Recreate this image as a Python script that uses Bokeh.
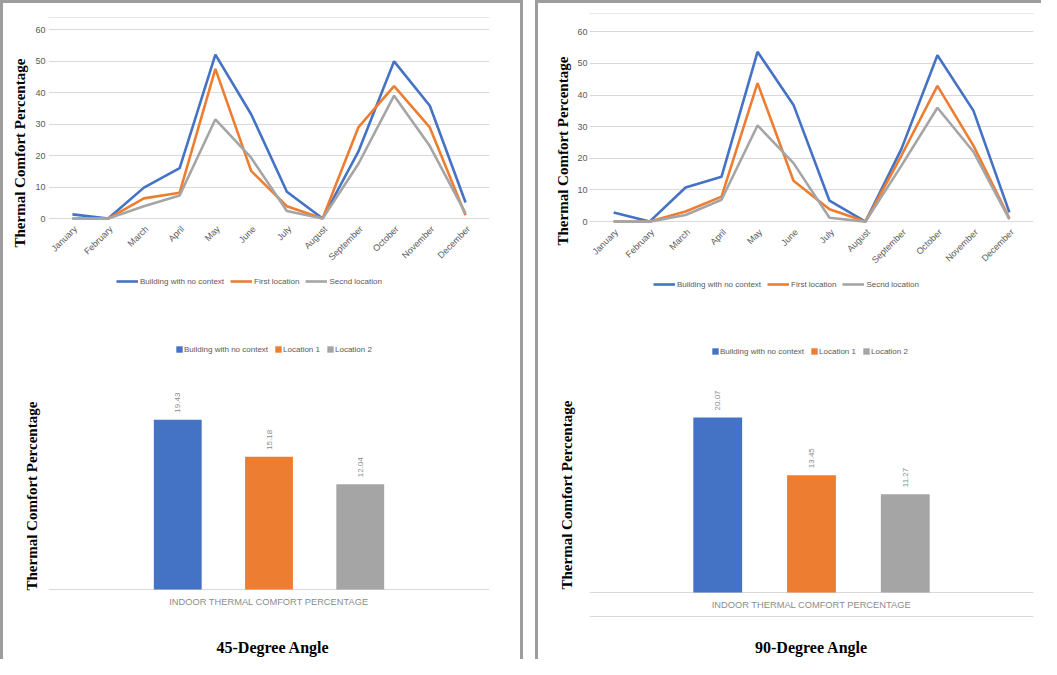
import math
from bokeh.plotting import figure
from bokeh.layouts import row, column
from bokeh.models import (ColumnDataSource, FactorRange, Range1d, Legend, LegendItem,
                          LinearAxis, FixedTicker, Span, Title)
from bokeh.transform import dodge
from bokeh.core.properties import value
from bokeh.embed import file_html
from bokeh.resources import INLINE

# ---------------- data ----------------
months = ["January", "February", "March", "April", "May", "June", "July",
          "August", "September", "October", "November", "December"]
line_series_names = ["Building with no context", "First location", "Secnd location"]

deg45_no_context = [1.3, 0, 9.8, 16.0, 52.0, 33.1, 8.5, 0, 21.2, 49.9, 35.8, 5.1]
deg45_first_loc = [0, 0, 6.4, 8.2, 47.5, 15.1, 3.9, 0, 28.9, 42.0, 28.9, 1.0]
deg45_second_loc = [0, 0, 3.9, 7.3, 31.5, 19.3, 2.4, 0, 17.3, 39.0, 23.0, 1.6]

deg90_no_context = [2.9, 0, 10.8, 14.2, 53.7, 36.9, 6.6, 0, 23.0, 52.6, 35.1, 2.9]
deg90_first_loc = [0, 0, 3.2, 7.9, 43.8, 12.9, 3.9, 0, 20.9, 42.9, 24.0, 1.0]
deg90_second_loc = [0, 0, 2.1, 6.9, 30.4, 18.5, 1.2, 0, 17.7, 36.0, 22.1, 0.7]

bar_category = "INDOOR THERMAL COMFORT PERCENTAGE"
bar_names = ["Building with no context", "Location 1", "Location 2"]
deg45_bars = [19.43, 15.18, 12.04]
deg90_bars = [20.07, 13.45, 11.27]

y_ticks = [0, 10, 20, 30, 40, 50, 60]
y_axis_title = "Thermal Comfort Percentage"
panel_titles = ["45-Degree Angle", "90-Degree Angle"]

# ---------------- style ----------------
COLORS = ["#4472C4", "#ED7D31", "#A5A5A5"]
GRID = "#d9d9d9"
TXT = "#595959"
SANS = "Liberation Sans"
SERIF = "Liberation Serif"
BORDER = "3px solid #9d9d9d"


def blank_axis(line_color):
    return LinearAxis(ticker=FixedTicker(ticks=[], minor_ticks=[]),
                      axis_line_color=line_color, major_tick_line_color=None,
                      minor_tick_line_color=None, major_tick_out=0, minor_tick_out=0,
                      major_tick_in=0, minor_tick_in=0, major_label_standoff=0)


def y_title(p, standoff, offset):
    t = Title(text=y_axis_title, align="left", vertical_align="bottom",
              standoff=standoff, offset=offset, text_font=SERIF,
              text_font_size="15px", text_font_style="bold", text_color="black")
    p.add_layout(t, "left")


def line_chart(series, width, mb_left, mb_right, mb_top, mb_bottom, y_range,
               leg_loc, tick_standoff, title_cfg):
    p = figure(width=width, height=304,
               x_range=FactorRange(factors=months, range_padding=0.17,
                                   range_padding_units="absolute"),
               y_range=Range1d(*y_range), output_backend="svg",
               toolbar_location=None, x_axis_location=None,
               min_border_left=mb_left, min_border_right=mb_right,
               min_border_top=mb_top, min_border_bottom=mb_bottom)
    p.outline_line_color = None
    p.xgrid.visible = False
    p.ygrid.grid_line_color = GRID
    p.ygrid.ticker = FixedTicker(ticks=y_ticks)
    yax = p.yaxis[0]
    yax.ticker = FixedTicker(ticks=y_ticks, minor_ticks=[])
    yax.axis_line_color = None
    yax.major_tick_line_color = None
    yax.minor_tick_line_color = None
    yax.major_tick_out = 0
    yax.minor_tick_out = 0
    yax.major_label_standoff = tick_standoff
    yax.major_label_text_font = SANS
    yax.major_label_text_font_size = "9px"
    yax.major_label_text_color = TXT
    y_title(p, *title_cfg)

    p.add_layout(blank_axis("#e8e8e8"), "above")

    # month labels hanging under the zero line
    msrc = ColumnDataSource(dict(m=months, z=[0] * len(months)))
    p.text("m", "z", text="m", source=msrc, angle=math.pi / 4, text_align="right",
           text_baseline="middle", x_offset=3, y_offset=9, text_font=value(SANS),
           text_font_size="9px", text_color=TXT)

    items = []
    for name, vals, col in zip(line_series_names, series, COLORS):
        src = ColumnDataSource(dict(m=months, v=vals))
        r = p.line("m", "v", source=src, line_color=col, line_width=2.6)
        items.append(LegendItem(label=name, renderers=[r]))
    leg = Legend(items=items, orientation="horizontal", location=leg_loc,
                 padding=0, margin=0, spacing=6, glyph_width=22, glyph_height=10,
                 label_height=10, label_standoff=2, border_line_color=None,
                 background_fill_alpha=0, label_text_font=SANS,
                 label_text_font_size="8px", label_text_color=TXT)
    p.add_layout(leg)
    return p


def bar_chart(vals, width, mb_left, mb_right, zero_px, px_per_unit, leg_loc, title,
              title_offset, offsets, bar_w, bottom_line_px, title_cfg):
    fig_top, fig_bottom = 315, 667
    frame_top, frame_bottom = 336, 667
    y_end = (zero_px - frame_top) / px_per_unit
    y_start = -(frame_bottom - zero_px) / px_per_unit
    p = figure(width=width, height=fig_bottom - fig_top,
               x_range=FactorRange(factors=[bar_category]),
               y_range=Range1d(y_start, y_end), output_backend="svg",
               toolbar_location=None, x_axis_location=None, y_axis_location=None,
               min_border_left=mb_left, min_border_right=mb_right,
               min_border_top=frame_top - fig_top,
               min_border_bottom=fig_bottom - frame_bottom)
    p.outline_line_color = None
    p.xgrid.visible = False
    p.ygrid.grid_line_color = GRID
    p.ygrid.ticker = FixedTicker(ticks=[0])
    y_title(p, *title_cfg)

    if bottom_line_px is not None:
        p.add_layout(Span(location=-(bottom_line_px - zero_px) / px_per_unit,
                          dimension="width", line_color=GRID, line_width=1))

    csrc = ColumnDataSource(dict(c=[bar_category], z=[0], t=[title]))
    p.text("c", "z", text="c", source=csrc, text_align="center",
           text_baseline="middle", y_offset=12, text_font=value(SANS),
           text_font_size="9.3px", text_color="#8c8c8c")
    p.text("c", "z", text="t", source=csrc, text_align="center",
           text_baseline="middle", x_offset=title_offset[0], y_offset=title_offset[1],
           text_font=value(SERIF), text_font_size="16px", text_font_style="bold",
           text_color="black")

    items = []
    for name, v, col, off in zip(bar_names, vals, COLORS, offsets):
        src = ColumnDataSource(dict(c=[bar_category], v=[v], lab=[f"{v:.2f}"]))
        xd = dodge("c", off, range=p.x_range)
        r = p.vbar(x=xd, top="v", width=bar_w, source=src, fill_color=col,
                   line_color=None)
        p.text(x=xd, y="v", text="lab", source=src, angle=math.pi / 2,
               text_align="left", text_baseline="middle", y_offset=-7,
               text_font=value(SANS), text_font_size="8px", text_color="#8c8c8c")
        items.append(LegendItem(label=name, renderers=[r]))
    leg = Legend(items=items, orientation="horizontal", location=leg_loc,
                 padding=0, margin=0, spacing=6, glyph_width=8,
                 glyph_height=8, label_height=10, label_standoff=1,
                 border_line_color=None, background_fill_alpha=0,
                 label_text_font=SANS, label_text_font_size="8px",
                 label_text_color=TXT)
    p.add_layout(leg)
    return p


# left panel (45 degrees): inner x 11..528
l1 = line_chart([deg45_no_context, deg45_first_loc, deg45_second_loc], 517,
                45, 24, 14, 20, (-21.9, 63.81), (68, 1), 3, (10, 40))
b1 = bar_chart(deg45_bars, 517, 39, 31, 597, 8.74, (127, 305), panel_titles[0],
               (4, 58), [-0.2069, 0.0, 0.2069], 0.1085, None, (18, 69))

# right panel (90 degrees): inner x 546..1049
l2 = line_chart([deg90_no_context, deg90_first_loc, deg90_second_loc], 503,
                51, 0, 10, 16, (-22.1, 65.8), (64, 2), 2, (8, 46))
b2 = bar_chart(deg90_bars, 503, 50, 8, 600, 8.72, (122, 303), panel_titles[1],
               (0, 55), [-0.2112, 0.0, 0.2112], 0.110, 624, (29, 70))

left = column(l1, b1, spacing=0,
              styles={"border-left": BORDER, "border-top": BORDER, "border-right": BORDER})
right = column(l2, b2, spacing=0,
               styles={"border-left": BORDER, "border-top": BORDER})
page = row(left, right, spacing=12)

open("out.html", "w").write(file_html(page, INLINE))
